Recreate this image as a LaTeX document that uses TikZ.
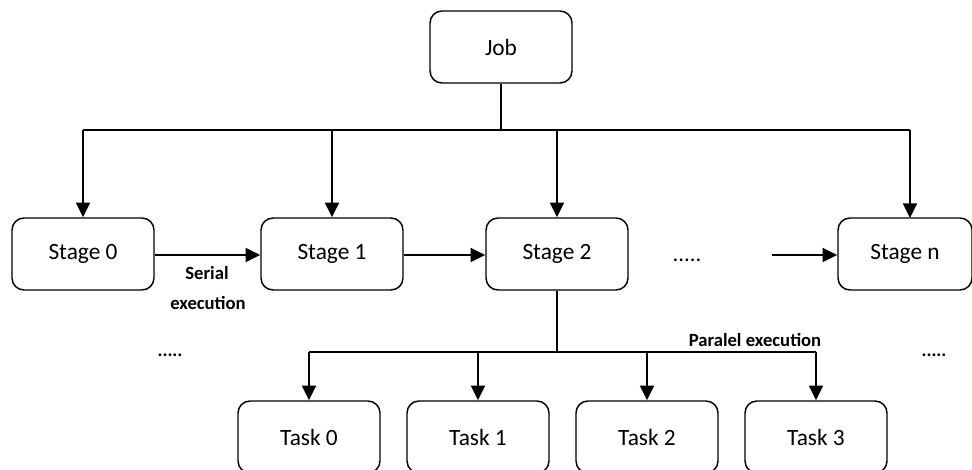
\documentclass[tikz,border=0pt]{standalone}
\usepackage{fontspec}
\setmainfont{Carlito}
\usetikzlibrary{arrows.meta}
\begin{document}
\begin{tikzpicture}[x=0.75pt,y=-0.75pt,
  box/.style={draw, line width=1.1pt, rounded corners=9pt, minimum width=106.5pt, minimum height=54pt, inner sep=0pt, font=\fontsize{17.5}{20}\selectfont},
  conn/.style={line width=1.4pt},
  arr/.style={conn, -{Triangle[length=11pt,width=10.5pt]}},
  lbl/.style={font=\bfseries\fontsize{14}{17}\selectfont, inner sep=0pt}]
\useasboundingbox (0,0) rectangle (972,470);
% nodes
\node[box] (job) at (501,47) {Job};
\node[box] (s0) at (83,254) {Stage 0};
\node[box] (s1) at (332,254) {Stage 1};
\node[box] (s2) at (557,254) {Stage 2};
\node[box, minimum width=100.5pt] (sn) at (905,254) {Stage n};
\node[box] (t0) at (309,437) {Task 0};
\node[box] (t1) at (478,437) {Task 1};
\node[box] (t2) at (647,437) {Task 2};
\node[box] (t3) at (816,437) {Task 3};
% labels
\node[lbl] (ser) at (207,273) {Serial};
\node[lbl] (exe) at (208,303) {execution};
\node[lbl] (par) at (755,340) {Paralel execution};
\node[font=\fontsize{17}{20}\selectfont, inner sep=0pt] (dm) at (687,260) {.....};
\node[lbl] (dl) at (170,355) {.....};
\node[lbl] (dr) at (934,355) {.....};
% coordinates
\coordinate (jb) at (501,130);
\coordinate (snin) at (910,218);
\coordinate (dmr) at (772,255);
\coordinate (tb) at (557,352);
% job to stages
\draw[conn] (job.south) -- (job.south |- jb);
\draw[conn] (s0.north |- jb) -- (snin |- jb);
\draw[arr] (s0.north |- jb) -- (s0.north);
\draw[arr] (s1.north |- jb) -- (s1.north);
\draw[arr] (s2.north |- jb) -- (s2.north);
\draw[arr] (snin |- jb) -- (snin);
% serial
\draw[arr] (s0.east |- dmr) -- (s1.west |- dmr);
\draw[arr] (s1.east |- dmr) -- (s2.west |- dmr);
\draw[arr] (dmr) -- (sn.west |- dmr);
% parallel
\draw[conn] (s2.south) -- (s2.south |- tb);
\draw[conn] (t0.north |- tb) -- (t3.north |- tb);
\draw[arr] (t0.north |- tb) -- (t0.north);
\draw[arr] (t1.north |- tb) -- (t1.north);
\draw[arr] (t2.north |- tb) -- (t2.north);
\draw[arr] (t3.north |- tb) -- (t3.north);
\end{tikzpicture}
\end{document}
